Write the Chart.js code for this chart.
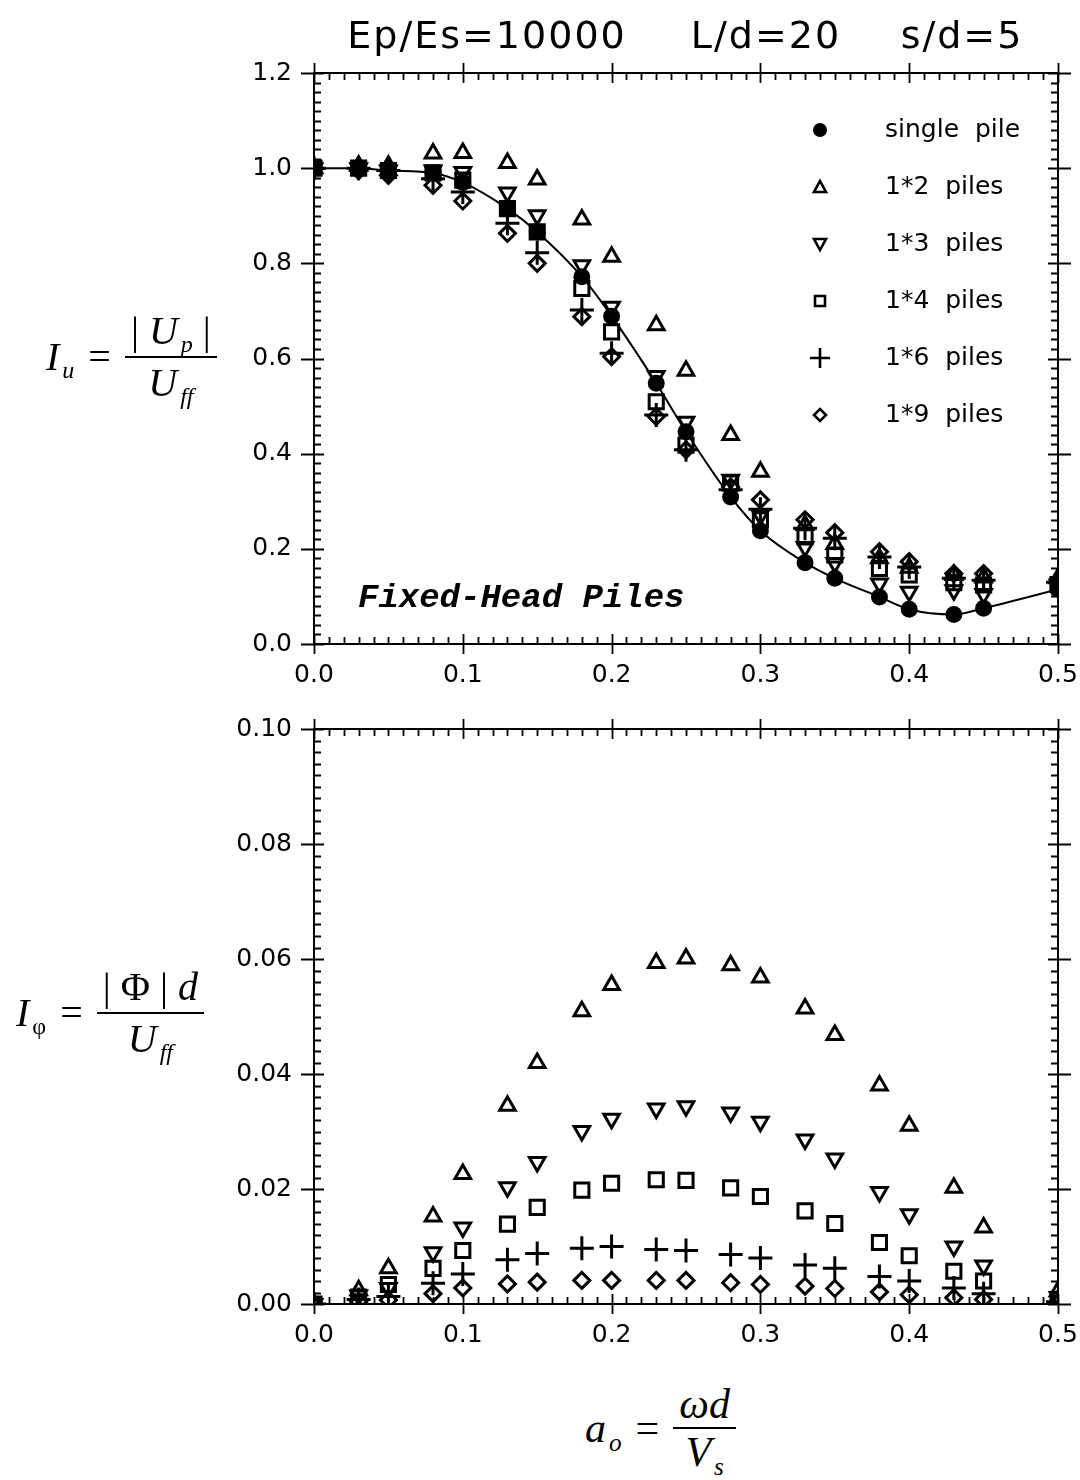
<!DOCTYPE html>
<html lang="en">
<head>
<meta charset="UTF-8">
<title>Fixed-Head Piles</title>
<script src="https://cdn.jsdelivr.net/npm/chart.js"></script>
<style>
  body { margin: 0; background: #fff; width: 1080px; height: 1480px; position: relative; overflow: hidden; }
  canvas { position: absolute; left: 0; }
  #graficoIu { top: 0; }
  #graficoIphi { top: 700px; }
  .formula { position: absolute; font-family: 'Liberation Serif', serif; font-style: italic; font-size: 40px; color: #000;
             white-space: nowrap; transform: translateY(-50%); line-height: 1; }
  .frac { display: inline-block; vertical-align: middle; text-align: center; }
  .frac .num { display: block; border-bottom: 2px solid #000; padding: 0 6px 5px; }
  .frac .den { display: block; padding-top: 5px; }
  .formula sub { font-size: 0.6em; vertical-align: -0.35em; margin-left: 3px; line-height: 0; }
  .eq { font-style: normal; margin: 0 14px; vertical-align: middle; }
  .up { font-style: normal; }
</style>
</head>
<body>
  <canvas id="graficoIu" width="1087" height="700"></canvas>
  <canvas id="graficoIphi" width="1087" height="660"></canvas>

  <div class="formula" style="left:46px; top:357px"><span style="vertical-align:middle">I<sub>u</sub></span><span class="eq">=</span><span class="frac"><span class="num"><span class="up">|</span> U<sub>p</sub> <span class="up">|</span></span><span class="den">U<sub>ff</sub></span></span></div>
  <div class="formula" style="left:16px; top:1013px"><span style="vertical-align:middle">I<sub><span class="up">&phi;</span></sub></span><span class="eq">=</span><span class="frac"><span class="num"><span class="up">| &Phi; |</span> d</span><span class="den">U<sub>ff</sub></span></span></div>
  <div class="formula" style="left:585px; top:1428px; font-size:42px"><span style="vertical-align:middle">a<sub>o</sub></span><span class="eq">=</span><span class="frac"><span class="num" style="padding-bottom:2px">&omega;d</span><span class="den" style="padding-top:2px">V<sub>s</sub></span></span></div>

<script>
// dimensionless frequency a0
var ao = [0, 0.03, 0.05, 0.08, 0.1, 0.13, 0.15, 0.18, 0.2, 0.23, 0.25, 0.28, 0.3, 0.33, 0.35, 0.38, 0.4, 0.43, 0.45, 0.5];

// Iu = |Up| / Uff
var iuSingle = [1.0, 1.0, 0.995, 0.99, 0.97, 0.915, 0.866, 0.772, 0.689, 0.548, 0.446, 0.309, 0.238, 0.171, 0.138, 0.099, 0.073, 0.062, 0.075, 0.115];
var iu1x2 = [1.0, 1.005, 1.005, 1.031, 1.032, 1.011, 0.976, 0.892, 0.814, 0.670, 0.574, 0.439, 0.362, 0.25, 0.21, 0.18, 0.16, 0.145, 0.14, 0.138];
var iu1x3 = [1.0, 1.0, 0.995, 0.995, 0.992, 0.949, 0.901, 0.796, 0.709, 0.563, 0.467, 0.345, 0.27, 0.204, 0.17, 0.127, 0.110, 0.113, 0.105, 0.125];
var iu1x4 = [1.0, 1.0, 0.995, 0.99, 0.975, 0.915, 0.866, 0.747, 0.656, 0.509, 0.418, 0.338, 0.261, 0.225, 0.187, 0.159, 0.145, 0.129, 0.124, 0.125];
var iu1x6 = [1.0, 1.0, 0.995, 0.978, 0.95, 0.884, 0.822, 0.702, 0.611, 0.481, 0.408, 0.324, 0.283, 0.243, 0.222, 0.183, 0.162, 0.138, 0.134, 0.13];
var iu1x9 = [1.0, 0.995, 0.985, 0.964, 0.931, 0.863, 0.80, 0.688, 0.604, 0.478, 0.408, 0.33, 0.303, 0.261, 0.234, 0.194, 0.173, 0.148, 0.148, 0.13];

// Iphi = |PHI| d / Uff
var ip1x2 = [0, 0.0024, 0.0062, 0.0152, 0.0226, 0.0345, 0.0419, 0.0509, 0.0555, 0.0593, 0.0601, 0.0589, 0.0568, 0.0514, 0.0468, 0.038, 0.031, 0.0202, 0.0133, 0.0022];
var ip1x3 = [0, 0.0015, 0.0028, 0.009, 0.0133, 0.0203, 0.0247, 0.0301, 0.0322, 0.034, 0.0344, 0.0333, 0.0317, 0.0286, 0.0253, 0.0195, 0.0156, 0.01, 0.0067, 0.0012];
var ip1x4 = [0, 0.0012, 0.0034, 0.0062, 0.0093, 0.0139, 0.0168, 0.0198, 0.021, 0.0216, 0.0215, 0.0202, 0.0187, 0.0162, 0.014, 0.0107, 0.0084, 0.0057, 0.004, 0.0008];
var ip1x6 = [0, 0.0008, 0.0013, 0.0036, 0.0052, 0.0077, 0.0088, 0.0097, 0.01, 0.0095, 0.0093, 0.0086, 0.008, 0.0068, 0.0062, 0.0048, 0.004, 0.0028, 0.0018, 0.0004];
var ip1x9 = [0, 0.0004, 0.0007, 0.0018, 0.0028, 0.0035, 0.0038, 0.0041, 0.0041, 0.0041, 0.0041, 0.0037, 0.0034, 0.0031, 0.0027, 0.0021, 0.0016, 0.0011, 0.0008, 0.0002];

var nomes = ['single  pile', '1*2  piles', '1*3  piles', '1*4  piles', '1*6  piles', '1*9  piles'];

var fonteTicks = { family: 'DejaVu Sans', size: 25 };

function pontos(ys) {
  return ao.map(function (x, i) { return { x: x, y: ys[i] }; });
}

// marker look per series
var estilos = [
  { pointStyle: 'circle', radius: 7, fill: true },
  { pointStyle: 'triangle', radius: 9, rotation: 0 },
  { pointStyle: 'triangle', radius: 9, rotation: 180 },
  { pointStyle: 'rect', radius: 10 },
  { pointStyle: 'cross', radius: 12 },
  { pointStyle: 'rectRot', radius: 8 }
];

function serie(i, ys) {
  var e = estilos[i];
  return {
    label: nomes[i],
    data: pontos(ys),
    showLine: false,
    pointStyle: e.pointStyle,
    pointRadius: e.radius,
    pointRotation: e.rotation || 0,
    pointBorderWidth: 3,
    pointBorderColor: '#000',
    pointBackgroundColor: e.fill ? '#000' : 'rgba(255,255,255,0)'
  };
}

// frame, inner minor ticks and outer major ticks on all 4 sides
var moldura = {
  id: 'moldura',
  afterDraw: function (chart, args, opts) {
    var ctx = chart.ctx, a = chart.chartArea;
    var sx = chart.scales.x, sy = chart.scales.y;
    ctx.save();
    ctx.strokeStyle = '#000';
    ctx.lineWidth = 2;
    ctx.strokeRect(a.left, a.top, a.right - a.left, a.bottom - a.top);
    ctx.lineWidth = 1.8;
    ctx.beginPath();
    var n = Math.round((sx.max - sx.min) / opts.xMinor);
    for (var i = 0; i <= n; i++) {
      var v = sx.min + i * opts.xMinor;
      var px = Math.round(sx.getPixelForValue(v)) + 0.5;
      var major = Math.abs(v / opts.xMajor - Math.round(v / opts.xMajor)) < 1e-6;
      var dentro = major ? 10 : 7, fora = major ? 10 : 0;
      ctx.moveTo(px, a.bottom + fora); ctx.lineTo(px, a.bottom - dentro);
      ctx.moveTo(px, a.top - fora); ctx.lineTo(px, a.top + dentro);
    }
    n = Math.round((sy.max - sy.min) / opts.yMinor);
    for (var j = 0; j <= n; j++) {
      var w = sy.min + j * opts.yMinor;
      var py = Math.round(sy.getPixelForValue(w)) + 0.5;
      var maj = Math.abs(w / opts.yMajor - Math.round(w / opts.yMajor)) < 1e-6;
      var d = maj ? 10 : 7, f = maj ? 13 : 0;
      ctx.moveTo(a.left - f, py); ctx.lineTo(a.left + d, py);
      ctx.moveTo(a.right + f, py); ctx.lineTo(a.right - d, py);
    }
    ctx.stroke();
    ctx.restore();
  }
};

function marcador(ctx, tipo, x, y) {
  ctx.beginPath();
  if (tipo == 0) {
    ctx.arc(x, y, 7, 0, Math.PI * 2);
    ctx.fill();
    return;
  } else if (tipo == 1) {
    ctx.moveTo(x, y - 6); ctx.lineTo(x + 6, y + 5); ctx.lineTo(x - 6, y + 5); ctx.closePath();
  } else if (tipo == 2) {
    ctx.moveTo(x, y + 6); ctx.lineTo(x + 6, y - 5); ctx.lineTo(x - 6, y - 5); ctx.closePath();
  } else if (tipo == 3) {
    ctx.rect(x - 5, y - 5, 10, 10);
  } else if (tipo == 4) {
    ctx.moveTo(x - 10, y); ctx.lineTo(x + 10, y);
    ctx.moveTo(x, y - 10); ctx.lineTo(x, y + 10);
  } else {
    ctx.moveTo(x, y - 6); ctx.lineTo(x + 6, y); ctx.lineTo(x, y + 6); ctx.lineTo(x - 6, y); ctx.closePath();
  }
  ctx.stroke();
}

// title, in-plot legend and caption of the upper graph
var textos = {
  id: 'textos',
  afterDraw: function (chart) {
    var ctx = chart.ctx;
    ctx.save();
    ctx.fillStyle = '#000';
    ctx.strokeStyle = '#000';
    ctx.textBaseline = 'middle';
    ctx.textAlign = 'center';
    ctx.font = '38px DejaVu Sans';
    ctx.letterSpacing = '2px';
    ctx.fillText('Ep/Es=10000', 487, 38);
    ctx.fillText('L/d=20', 766, 38);
    ctx.fillText('s/d=5', 962, 38);
    ctx.letterSpacing = '0px';

    ctx.textAlign = 'left';
    ctx.font = '25px DejaVu Sans';
    ctx.lineWidth = 2.6;
    for (var i = 0; i < nomes.length; i++) {
      var y = 130 + i * 57;
      marcador(ctx, i, 820, y);
      ctx.fillText(nomes[i], 885, y);
    }

    ctx.font = 'italic bold 34px Liberation Mono';
    ctx.fillText('Fixed-Head Piles', 358, 598);
    ctx.restore();
  }
};

function eixoX() {
  return {
    type: 'linear', min: 0, max: 0.5,
    grid: { display: false },
    border: { display: false },
    ticks: { stepSize: 0.1, color: '#000', font: fonteTicks, padding: 8, maxRotation: 0,
             callback: function (v) { return v.toFixed(1); } },
    afterFit: function (s) { s.height = 56; }
  };
}

var ctxIu = document.getElementById('graficoIu');
var graficoIu = new Chart(ctxIu, {
  type: 'scatter',
  data: {
    datasets: [
      Object.assign(serie(0, iuSingle), { showLine: true, borderColor: '#000', borderWidth: 2, cubicInterpolationMode: 'monotone' }),
      serie(1, iu1x2),
      serie(2, iu1x3),
      serie(3, iu1x4),
      serie(4, iu1x6),
      serie(5, iu1x9)
    ]
  },
  options: {
    responsive: false,
    animation: false,
    devicePixelRatio: 1,
    layout: { padding: { left: 0, right: 29, top: 73, bottom: 0 } },
    plugins: {
      legend: { display: false },
      tooltip: { enabled: false },
      moldura: { xMinor: 0.01, xMajor: 0.1, yMinor: 0.02, yMajor: 0.2 }
    },
    scales: {
      x: eixoX(),
      y: {
        type: 'linear', min: 0, max: 1.2,
        grid: { display: false },
        border: { display: false },
        ticks: { stepSize: 0.2, color: '#000', font: fonteTicks, padding: 14,
                 callback: function (v) { return v.toFixed(1); } },
        afterFit: function (s) { s.width = 314; }
      }
    }
  },
  plugins: [moldura, textos]
});

var ctxIphi = document.getElementById('graficoIphi');
var graficoIphi = new Chart(ctxIphi, {
  type: 'scatter',
  data: {
    datasets: [
      serie(1, ip1x2),
      serie(2, ip1x3),
      serie(3, ip1x4),
      serie(4, ip1x6),
      serie(5, ip1x9)
    ]
  },
  options: {
    responsive: false,
    animation: false,
    devicePixelRatio: 1,
    layout: { padding: { left: 0, right: 29, top: 27, bottom: 0 } },
    plugins: {
      legend: { display: false },
      tooltip: { enabled: false },
      moldura: { xMinor: 0.01, xMajor: 0.1, yMinor: 0.002, yMajor: 0.02 }
    },
    scales: {
      x: eixoX(),
      y: {
        type: 'linear', min: 0, max: 0.1,
        grid: { display: false },
        border: { display: false },
        ticks: { stepSize: 0.02, color: '#000', font: fonteTicks, padding: 14,
                 callback: function (v) { return v.toFixed(2); } },
        afterFit: function (s) { s.width = 314; }
      }
    }
  },
  plugins: [moldura]
});
</script>
</body>
</html>
